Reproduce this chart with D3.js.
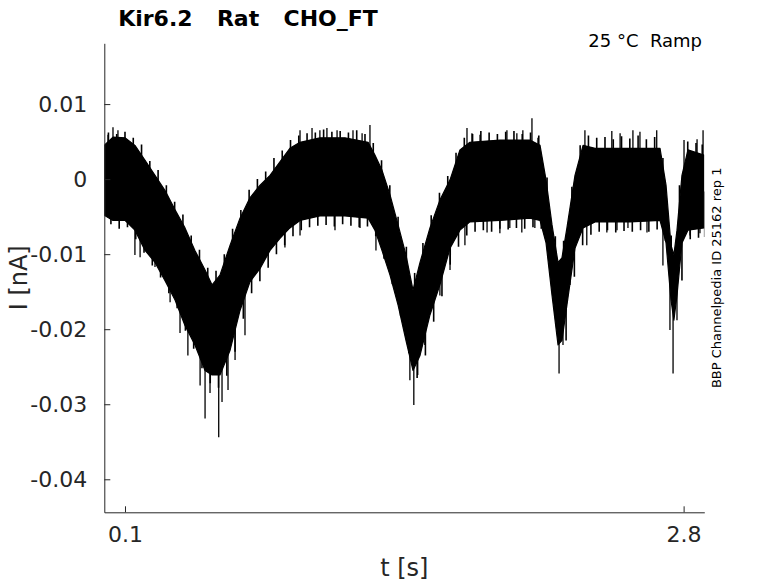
<!DOCTYPE html>
<html>
<head>
<meta charset="utf-8">
<script src="https://cdn.jsdelivr.net/npm/d3@7"></script>
<style>
  html, body { margin: 0; padding: 0; background: #fff; }
  svg { display: block; font-family: "DejaVu Sans", sans-serif; }
  text { white-space: pre; }
</style>
</head>
<body>
<svg id="chart" width="778" height="583"></svg>
<script>
// ---- data ----
const titleText = "Kir6.2  Rat  CHO_FT";
const conditionText = "25 °C  Ramp";
const sourceText = "BBP Channelpedia ID 25162 rep 1";
const xLabel = "t [s]";
const yLabel = "I [nA]";
const xTicks = [0.1, 2.8];
const yTicks = [0.01, 0, -0.01, -0.02, -0.03, -0.04];

// envelope of the dense part of the noisy current trace: time (s), upper and lower edge (nA)
const time = [0.000, 0.042, 0.100, 0.148, 0.197, 0.245, 0.293, 0.342, 0.390, 0.438,
  0.487, 0.521, 0.559, 0.608, 0.656, 0.704, 0.753, 0.801, 0.849, 0.897,
  0.946, 1.042, 1.163, 1.275, 1.308, 1.342, 1.381, 1.420, 1.458, 1.492,
  1.526, 1.574, 1.622, 1.671, 1.719, 1.767, 1.912, 2.057, 2.106, 2.135,
  2.164, 2.193, 2.212, 2.236, 2.275, 2.314, 2.372, 2.541, 2.686, 2.715,
  2.739, 2.753, 2.768, 2.792, 2.821, 2.898];
const upper = [0.0045, 0.0056, 0.0055, 0.0045, 0.0025, 0.0005, -0.0015, -0.0041, -0.0065, -0.0095,
  -0.0121, -0.0141, -0.0128, -0.0088, -0.0052, -0.0025, -0.0008, 0.0005, 0.0023, 0.0041,
  0.0049, 0.0055, 0.0055, 0.0049, 0.0032, 0.0012, -0.0021, -0.0061, -0.0101, -0.0148,
  -0.0111, -0.0065, -0.0028, -0.0001, 0.0039, 0.0049, 0.0052, 0.0052, 0.0045, -0.0001,
  -0.0061, -0.0111, -0.0105, -0.0065, 0.0005, 0.0045, 0.0041, 0.0041, 0.0041, -0.0008,
  -0.0088, -0.0101, -0.0068, 0.0005, 0.0039, 0.0032];
const lower = [-0.0048, -0.0055, -0.0055, -0.0068, -0.0095, -0.0111, -0.0135, -0.0161, -0.0195, -0.0221,
  -0.0255, -0.0261, -0.0261, -0.0228, -0.0175, -0.0137, -0.0119, -0.0095, -0.0079, -0.0065,
  -0.0055, -0.0049, -0.0049, -0.0052, -0.0068, -0.0095, -0.0128, -0.0168, -0.0215, -0.0255,
  -0.0235, -0.0181, -0.0141, -0.0092, -0.0068, -0.0057, -0.0055, -0.0052, -0.0055, -0.0085,
  -0.0155, -0.0221, -0.0215, -0.0168, -0.0092, -0.0065, -0.0057, -0.0057, -0.0055, -0.0085,
  -0.0161, -0.0188, -0.0155, -0.0085, -0.0068, -0.0065];

// short noise excursions along both edges of the trace: time (s), upper / lower reach (nA)
const fringeTime = [0.02, 0.06, 0.10, 0.14, 0.18, 0.22, 0.26, 0.30, 0.34, 0.38, 0.42, 0.46, 0.50,
  0.54, 0.58, 0.62, 0.66, 0.70, 0.74, 0.78, 0.82, 0.86, 0.90, 0.94, 0.98, 1.02, 1.06, 1.10,
  1.14, 1.18, 1.22, 1.26, 1.30, 1.34, 1.38, 1.42, 1.46, 1.50, 1.54, 1.58, 1.62, 1.66, 1.70,
  1.74, 1.78, 1.82, 1.86, 1.90, 1.94, 1.98, 2.02, 2.06, 2.10, 2.14, 2.18, 2.22, 2.26, 2.30,
  2.34, 2.38, 2.42, 2.46, 2.50, 2.54, 2.58, 2.62, 2.66, 2.70, 2.74, 2.78, 2.82, 2.86, 2.89];
const fringeUpper = [0.0062, 0.0060, 0.0063, 0.0055, 0.0046, 0.0024, 0.0012, -0.0008, -0.0030, -0.0047,
  -0.0075, -0.0094, -0.0118, -0.0122, -0.0100, -0.0066, -0.0041, -0.0014, 0.0000, 0.0010,
  0.0028, 0.0038, 0.0052, 0.0058, 0.0061, 0.0062, 0.0066, 0.0063, 0.0064, 0.0062,
  0.0065, 0.0060, 0.0048, 0.0025, -0.0008, -0.0050, -0.0090, -0.0125, -0.0085, -0.0048,
  -0.0018, 0.0004, 0.0035, 0.0055, 0.0060, 0.0064, 0.0062, 0.0060, 0.0063, 0.0064,
  0.0060, 0.0062, 0.0058, 0.0002, -0.0076, -0.0082, -0.0010, 0.0045, 0.0058, 0.0055,
  0.0056, 0.0053, 0.0057, 0.0054, 0.0058, 0.0053, 0.0056, 0.0028, -0.0075, -0.0008,
  0.0050, 0.0048, 0.0046];
const fringeLower = [-0.0060, -0.0066, -0.0064, -0.0080, -0.0098, -0.0115, -0.0131, -0.0152, -0.0172, -0.0202,
  -0.0226, -0.0252, -0.0272, -0.0278, -0.0262, -0.0230, -0.0186, -0.0152, -0.0136, -0.0118,
  -0.0100, -0.0088, -0.0076, -0.0068, -0.0064, -0.0062, -0.0061, -0.0063, -0.0060, -0.0062,
  -0.0064, -0.0063, -0.0076, -0.0106, -0.0140, -0.0182, -0.0232, -0.0265, -0.0235, -0.0190,
  -0.0156, -0.0114, -0.0090, -0.0075, -0.0070, -0.0068, -0.0070, -0.0066, -0.0067, -0.0065,
  -0.0066, -0.0064, -0.0066, -0.0098, -0.0205, -0.0215, -0.0130, -0.0088, -0.0074, -0.0070,
  -0.0068, -0.0071, -0.0069, -0.0070, -0.0068, -0.0070, -0.0067, -0.0082, -0.0178, -0.0135,
  -0.0080, -0.0078, -0.0077];

// isolated large noise excursions: time (s), value (nA)
const spikeTime = [0.018, 0.042, 0.066, 0.946, 1.004, 1.042, 1.076, 1.125, 1.202, 1.246, 1.284,
  1.753, 1.777, 1.816, 1.946, 1.994, 2.023, 2.067, 2.096,
  2.323, 2.453, 2.493, 2.555, 2.589, 2.670, 2.802, 2.865, 2.894,
  0.148, 0.173, 0.245, 0.318, 0.366, 0.404, 0.463, 0.487, 0.511, 0.553, 0.569, 0.598, 0.632, 0.680,
  0.873, 0.946, 1.115, 1.236, 1.313, 1.390, 1.430, 1.477, 1.496, 1.515, 1.549, 1.622, 1.671, 1.743,
  1.850, 1.912, 1.960, 2.018, 2.081, 2.178, 2.198, 2.217, 2.251, 2.332,
  2.429, 2.478, 2.531, 2.623, 2.700, 2.734, 2.749, 2.768, 2.831, 2.879];
const spikeValue = [0.0059, 0.0069, 0.0065, 0.0065, 0.0068, 0.0065, 0.0068, 0.0065, 0.0065, 0.0061, 0.0072,
  0.0068, 0.0061, 0.0059, 0.0065, 0.0061, 0.0065, 0.0081, 0.0055,
  0.0065, 0.0064, 0.0061, 0.0065, 0.0063, 0.0065, 0.0052, 0.0053, 0.0065,
  -0.0101, -0.0104, -0.0117, -0.0164, -0.0205, -0.0235, -0.0275, -0.0319, -0.0285, -0.0344, -0.0297, -0.0281, -0.0241, -0.0208,
  -0.0091, -0.0075, -0.0068, -0.0065, -0.0095, -0.0135, -0.0161, -0.0268, -0.0301, -0.0261, -0.0221, -0.0155, -0.0121, -0.0088,
  -0.0071, -0.0072, -0.0065, -0.0071, -0.0065, -0.0181, -0.0259, -0.0221, -0.0141, -0.0088,
  -0.0071, -0.0068, -0.0065, -0.0071, -0.0115, -0.0201, -0.0259, -0.0188, -0.0075, -0.0072];

// ---- drawing ----
const svg = d3.select("#chart");
const axisColor = "#262626";
const L = 104.3, R = 704.3, T = 43.3, B = 512.3;

const x = d3.scaleLinear().domain([0, 2.9]).range([L, R]);
const y = d3.scaleLinear().domain([-0.0444, 0.0181]).range([B, T]);

svg.append("defs").append("clipPath").attr("id", "clip")
  .append("rect").attr("x", L).attr("y", T).attr("width", R - L).attr("height", B - T);

const plot = svg.append("g").attr("clip-path", "url(#clip)");

const band = time.map((t, i) => ({ t, hi: upper[i], lo: lower[i] }));
const area = d3.area().x(d => x(d.t)).y0(d => y(d.lo)).y1(d => y(d.hi));
plot.append("path").datum(band).attr("d", area)
  .attr("fill", "#000").attr("stroke", "#000").attr("stroke-width", 1.2)
  .attr("stroke-linejoin", "round");

const midAt = t => {
  const i = Math.max(1, Math.min(time.length - 1, d3.bisectLeft(time, t)));
  const f = (t - time[i - 1]) / (time[i] - time[i - 1]);
  const m0 = (upper[i - 1] + lower[i - 1]) / 2, m1 = (upper[i] + lower[i]) / 2;
  return m0 + f * (m1 - m0);
};

const fringe = [];
fringeTime.forEach((t, i) => {
  fringe.push({ t, v: fringeUpper[i] });
  fringe.push({ t: t + 0.012, v: fringeLower[i] });
});
plot.selectAll("line.fringe").data(fringe).join("line").attr("class", "fringe")
  .attr("x1", d => x(d.t)).attr("x2", d => x(d.t))
  .attr("y1", d => y(d.v)).attr("y2", d => y(midAt(d.t)))
  .attr("stroke", "#000").attr("stroke-width", 1.6);

const spikes = spikeTime.map((t, i) => ({ t, v: spikeValue[i] }));
plot.selectAll("line.spike").data(spikes).join("line").attr("class", "spike")
  .attr("x1", d => x(d.t)).attr("x2", d => x(d.t))
  .attr("y1", d => y(d.v)).attr("y2", d => y(midAt(d.t)))
  .attr("stroke", "#000").attr("stroke-width", 1.3);

// axes
const xAxis = d3.axisBottom(x).tickValues(xTicks).tickSizeInner(-6).tickSizeOuter(0)
  .tickPadding(14).tickFormat(d3.format(".1f"));
const gx = svg.append("g").attr("transform", `translate(0,${B})`).call(xAxis);
const yAxis = d3.axisLeft(y).tickValues(yTicks).tickSizeInner(-6).tickSizeOuter(0)
  .tickPadding(17).tickFormat(d => d === 0 ? "0" : String(d));
const gy = svg.append("g").attr("transform", `translate(${L},0)`).call(yAxis);

[gx, gy].forEach(g => {
  g.select(".domain").attr("stroke", axisColor).attr("stroke-width", 1);
  g.selectAll(".tick line").attr("stroke", axisColor).attr("stroke-width", 1);
  g.selectAll(".tick text").attr("fill", axisColor)
    .style("font-family", "DejaVu Sans").style("font-size", "22px");
});
gx.selectAll(".tick text").attr("dy", "0.71em");

// labels
svg.append("text").attr("x", (L + R) / 2).attr("y", 576).attr("text-anchor", "middle")
  .attr("fill", axisColor).style("font-size", "24px").text(xLabel);
svg.append("text").attr("transform", `translate(27,${(T + B) / 2}) rotate(-90)`)
  .attr("text-anchor", "middle").attr("fill", axisColor).style("font-size", "24px").text(yLabel);

svg.append("text").attr("x", 248).attr("y", 26).attr("text-anchor", "middle")
  .attr("xml:space", "preserve").style("word-spacing", "4.5px")
  .attr("fill", "#000").style("font-weight", "bold").style("font-size", "22px").text(titleText);
svg.append("text").attr("x", 702).attr("y", 47).attr("text-anchor", "end")
  .attr("xml:space", "preserve")
  .attr("fill", "#000").style("font-size", "18px").text(conditionText);
svg.append("text").attr("transform", `translate(721,${(T + B) / 2}) rotate(-90)`)
  .attr("text-anchor", "middle").attr("fill", "#000").style("font-size", "13px").text(sourceText);
</script>
</body>
</html>
